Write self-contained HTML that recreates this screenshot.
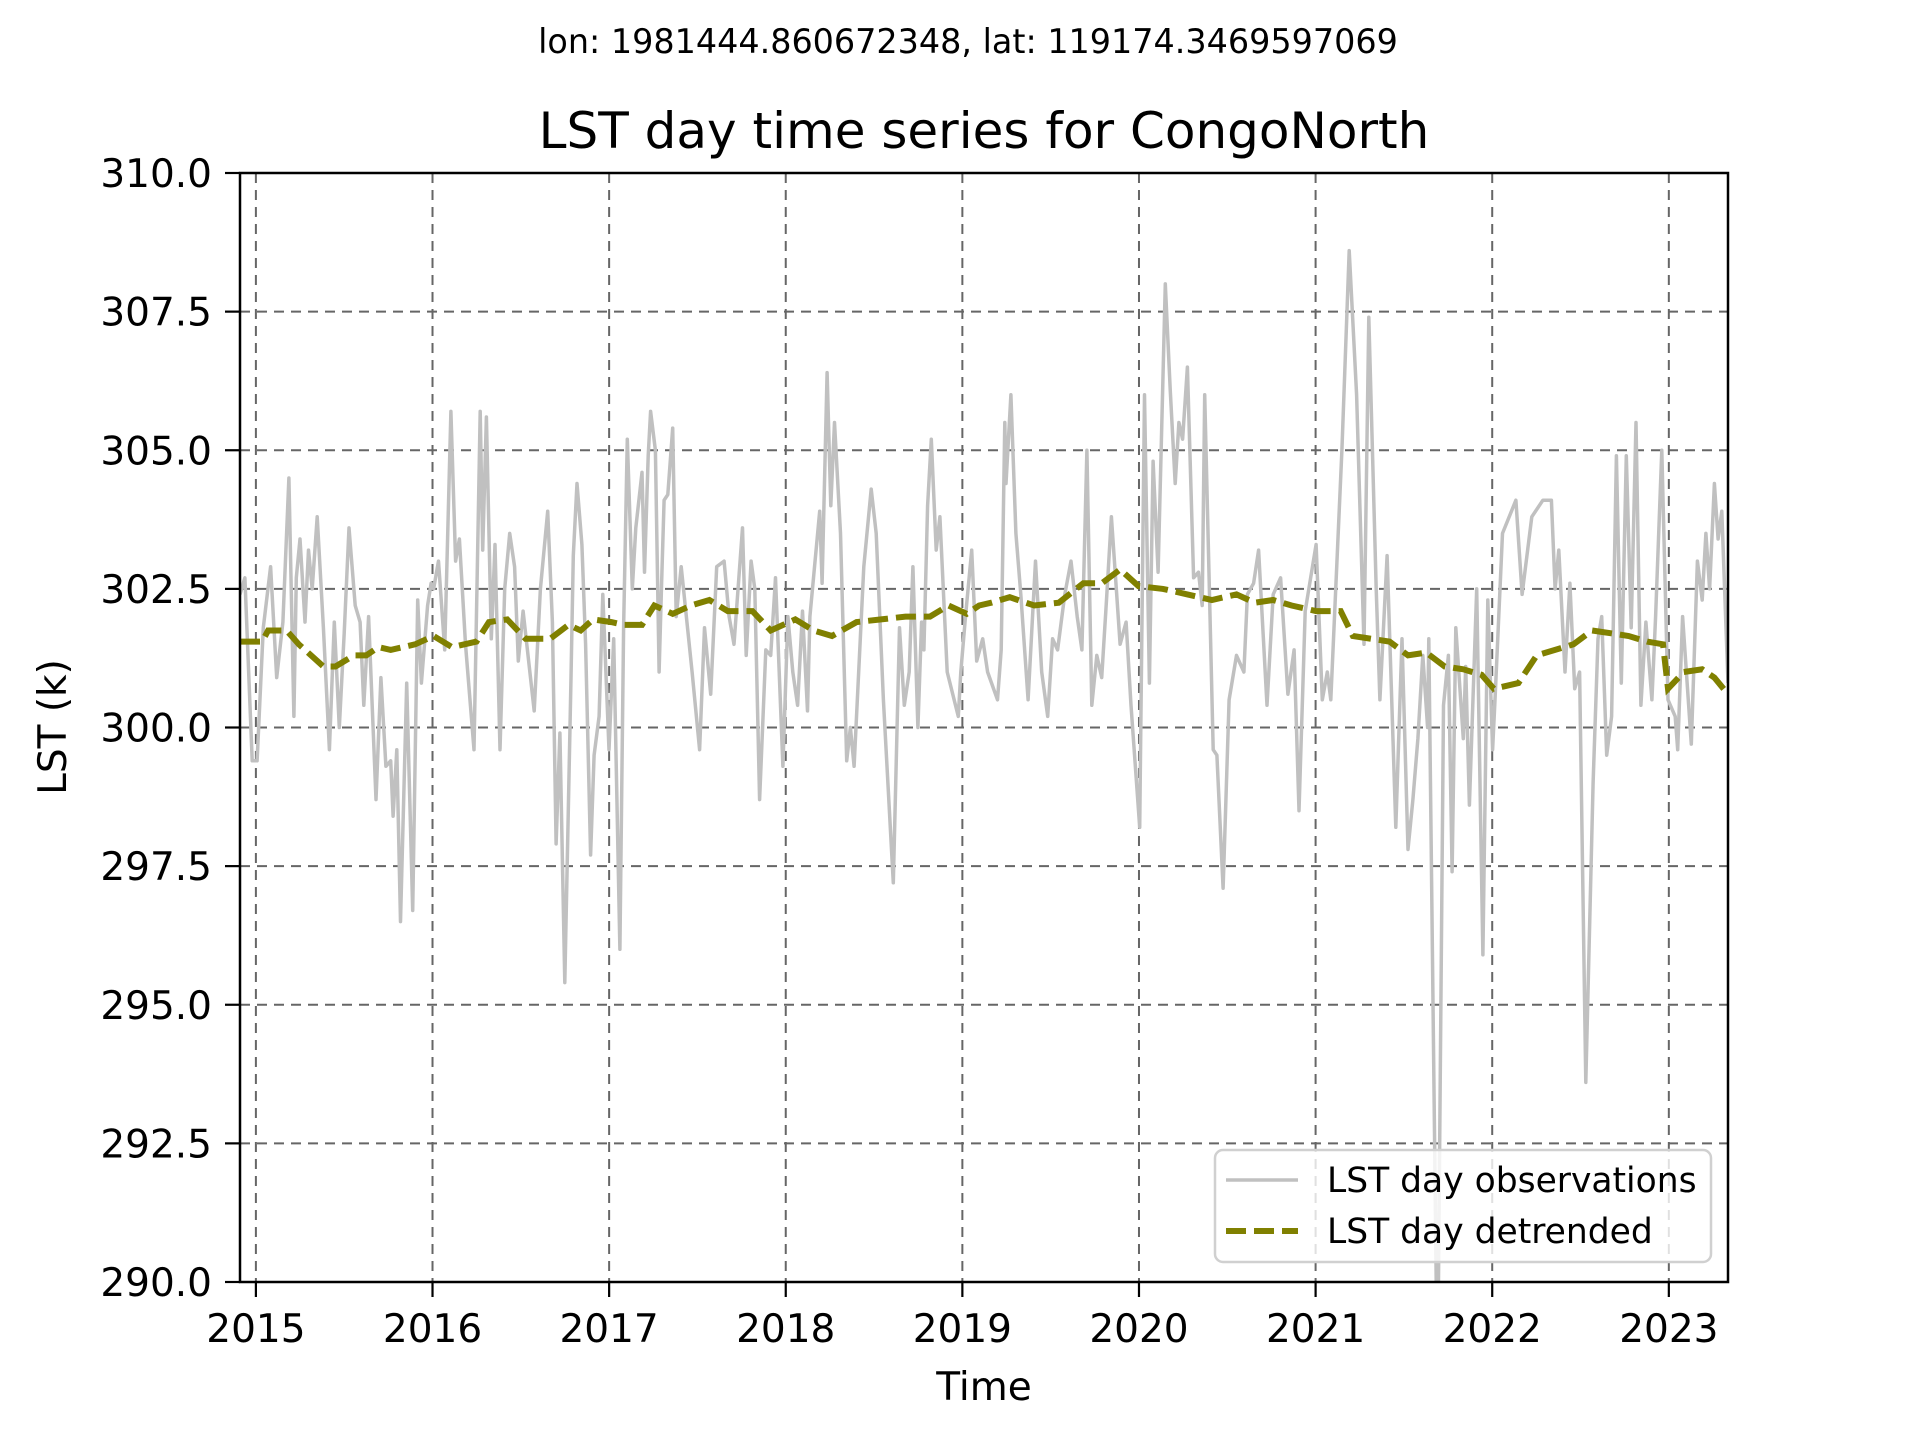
<!DOCTYPE html>
<html><head><meta charset="utf-8"><style>
html,body{margin:0;padding:0;background:#fff;}
svg text{font-family:"DejaVu Sans","Liberation Sans",sans-serif;fill:#000;}
</style></head><body>
<svg id="chart" width="1920" height="1440" viewBox="0 0 1920 1440" xmlns="http://www.w3.org/2000/svg">
<rect width="1920" height="1440" fill="#fff"/>
<text x="968" y="53" text-anchor="middle" font-size="33.4">lon: 1981444.860672348, lat: 119174.3469597069</text>
<text x="984" y="148" text-anchor="middle" font-size="50">LST day time series for CongoNorth</text>
<defs><clipPath id="plotclip"><rect x="240" y="173" width="1488" height="1109"/></clipPath></defs>
<g id="grid"></g>
<g id="series" clip-path="url(#plotclip)"></g>
<g id="axes"></g>
<text x="984" y="1400" text-anchor="middle" font-size="39">Time</text>
<text transform="translate(66,727) rotate(-90)" text-anchor="middle" font-size="39">LST (k)</text>
<g>
<rect x="1215" y="1150" width="496" height="112" rx="8" fill="#fff" fill-opacity="0.8" stroke="#d0d0d0" stroke-width="2.5"/>
<line x1="1226" y1="1180" x2="1298" y2="1180" stroke="#c0c0c0" stroke-width="3.5"/>
<text x="1327" y="1192" font-size="34.5">LST day observations</text>
<line x1="1226" y1="1231" x2="1298" y2="1231" stroke="#808000" stroke-width="6" stroke-dasharray="20,8"/>
<text x="1327" y="1243" font-size="34.5">LST day detrended</text>
</g>
</svg>
<script>
const obsYears=[2014.910,2014.938,2014.979,2015.007,2015.042,2015.083,2015.118,2015.153,2015.187,2015.215,2015.229,2015.250,2015.278,2015.298,2015.319,2015.347,2015.382,2015.416,2015.444,2015.472,2015.500,2015.527,2015.562,2015.590,2015.611,2015.638,2015.680,2015.708,2015.736,2015.763,2015.777,2015.798,2015.819,2015.854,2015.888,2015.916,2015.937,2015.972,2015.992,2016.006,2016.034,2016.069,2016.104,2016.131,2016.152,2016.187,2016.235,2016.270,2016.284,2016.305,2016.333,2016.354,2016.382,2016.409,2016.437,2016.465,2016.486,2016.513,2016.576,2016.611,2016.652,2016.679,2016.700,2016.721,2016.749,2016.784,2016.797,2016.818,2016.846,2016.867,2016.895,2016.915,2016.943,2016.964,2016.999,2017.026,2017.061,2017.082,2017.103,2017.131,2017.151,2017.186,2017.200,2017.221,2017.235,2017.262,2017.283,2017.297,2017.311,2017.332,2017.360,2017.380,2017.408,2017.470,2017.512,2017.540,2017.575,2017.609,2017.651,2017.679,2017.707,2017.755,2017.776,2017.804,2017.825,2017.852,2017.887,2017.915,2017.942,2017.984,2018.012,2018.040,2018.067,2018.095,2018.123,2018.137,2018.192,2018.206,2018.234,2018.255,2018.276,2018.310,2018.345,2018.366,2018.387,2018.442,2018.484,2018.512,2018.553,2018.609,2018.644,2018.671,2018.699,2018.720,2018.748,2018.769,2018.782,2018.803,2018.824,2018.852,2018.873,2018.914,2018.977,2018.991,2019.018,2019.053,2019.081,2019.115,2019.143,2019.199,2019.220,2019.240,2019.247,2019.275,2019.303,2019.331,2019.372,2019.414,2019.449,2019.483,2019.511,2019.539,2019.580,2019.615,2019.650,2019.677,2019.705,2019.733,2019.761,2019.789,2019.816,2019.844,2019.893,2019.927,2019.955,2020.004,2020.031,2020.059,2020.080,2020.108,2020.149,2020.177,2020.205,2020.226,2020.247,2020.274,2020.309,2020.337,2020.358,2020.372,2020.399,2020.420,2020.441,2020.476,2020.510,2020.552,2020.594,2020.614,2020.649,2020.677,2020.725,2020.760,2020.802,2020.843,2020.878,2020.906,2020.941,2021.003,2021.038,2021.066,2021.086,2021.107,2021.149,2021.190,2021.232,2021.274,2021.301,2021.343,2021.364,2021.405,2021.454,2021.489,2021.523,2021.551,2021.579,2021.607,2021.634,2021.641,2021.690,2021.724,2021.752,2021.773,2021.794,2021.836,2021.850,2021.871,2021.912,2021.947,2021.975,2022.002,2022.016,2022.058,2022.134,2022.169,2022.224,2022.287,2022.335,2022.356,2022.377,2022.412,2022.440,2022.467,2022.495,2022.530,2022.571,2022.599,2022.620,2022.648,2022.676,2022.703,2022.731,2022.759,2022.787,2022.814,2022.842,2022.870,2022.904,2022.925,2022.960,2022.995,2023.036,2023.050,2023.078,2023.127,2023.162,2023.189,2023.210,2023.231,2023.258,2023.279,2023.300,2023.335];
const obsValues=[302.4,302.7,299.4,299.4,301.8,302.9,300.9,301.9,304.5,300.2,302.7,303.4,301.9,303.2,302.5,303.8,301.8,299.6,301.9,300.0,301.7,303.6,302.2,301.9,300.4,302.0,298.7,300.9,299.3,299.4,298.4,299.6,296.5,300.8,296.7,302.3,300.8,302.2,302.6,302.5,303.0,301.4,305.7,303.0,303.4,301.5,299.6,305.7,303.2,305.6,301.6,303.3,299.6,302.5,303.5,302.9,301.2,302.1,300.3,302.5,303.9,301.9,297.9,299.9,295.4,300.9,303.1,304.4,303.3,301.5,297.7,299.5,300.2,302.4,299.6,301.6,296.0,301.8,305.2,302.5,303.6,304.6,302.8,304.9,305.7,305.0,301.0,302.6,304.1,304.2,305.4,302.0,302.9,301.0,299.6,301.8,300.6,302.9,303.0,302.0,301.5,303.6,301.3,303.0,302.5,298.7,301.4,301.3,302.7,299.3,302.0,301.0,300.4,302.1,300.3,302.0,303.9,302.6,306.4,304.0,305.5,303.5,299.4,300.0,299.3,302.9,304.3,303.5,300.5,297.2,301.8,300.4,301.0,302.9,300.0,301.9,301.4,304.0,305.2,303.2,303.8,301.0,300.2,301.0,302.0,303.2,301.2,301.6,301.0,300.5,301.4,305.5,304.4,306.0,303.5,302.4,300.5,303.0,301.0,300.2,301.6,301.4,302.4,303.0,302.0,301.4,305.0,300.4,301.3,300.9,302.3,303.8,301.5,301.9,300.4,298.2,306.0,300.8,304.8,302.8,308.0,306.1,304.4,305.5,305.2,306.5,302.7,302.8,302.2,306.0,302.4,299.6,299.5,297.1,300.5,301.3,301.0,302.4,302.6,303.2,300.4,302.4,302.7,300.6,301.4,298.5,302.1,303.3,300.5,301.0,300.5,302.0,305.0,308.6,306.0,301.5,307.4,302.5,300.5,303.1,298.2,301.6,297.8,298.7,299.8,301.3,300.0,301.6,288.0,300.4,301.3,297.4,301.8,299.8,301.1,298.6,302.5,295.9,302.3,299.6,300.5,303.5,304.1,302.4,303.8,304.1,304.1,302.5,303.2,301.0,302.6,300.7,301.0,293.6,299.0,301.6,302.0,299.5,300.2,304.9,300.8,304.9,301.8,305.5,300.4,301.9,300.5,302.0,305.0,300.5,300.2,299.6,302.0,299.7,303.0,302.3,303.5,302.5,304.4,303.4,303.9,300.8];
const detYears=[2014.910,2015.035,2015.069,2015.174,2015.243,2015.382,2015.451,2015.555,2015.625,2015.694,2015.763,2015.902,2016.006,2016.110,2016.249,2016.319,2016.423,2016.527,2016.666,2016.770,2016.839,2016.909,2017.013,2017.082,2017.186,2017.256,2017.360,2017.464,2017.568,2017.672,2017.811,2017.915,2018.054,2018.158,2018.262,2018.401,2018.540,2018.678,2018.817,2018.921,2019.025,2019.095,2019.164,2019.268,2019.407,2019.546,2019.685,2019.789,2019.893,2019.997,2020.136,2020.274,2020.413,2020.552,2020.656,2020.760,2020.864,2021.003,2021.142,2021.211,2021.315,2021.419,2021.523,2021.627,2021.731,2021.836,2021.940,2022.009,2022.148,2022.252,2022.356,2022.460,2022.565,2022.669,2022.773,2022.877,2022.967,2022.995,2023.085,2023.189,2023.258,2023.335];
const detValues=[301.55,301.55,301.75,301.75,301.5,301.1,301.1,301.3,301.3,301.45,301.4,301.5,301.65,301.45,301.55,301.9,301.95,301.6,301.6,301.85,301.75,301.95,301.9,301.85,301.85,302.2,302.05,302.2,302.3,302.1,302.1,301.75,301.95,301.75,301.65,301.9,301.95,302.0,302.0,302.2,302.05,302.2,302.25,302.35,302.2,302.25,302.6,302.6,302.85,302.55,302.5,302.4,302.3,302.4,302.25,302.3,302.2,302.1,302.1,301.65,301.6,301.55,301.3,301.35,301.1,301.05,300.95,300.7,300.8,301.3,301.4,301.5,301.75,301.7,301.65,301.55,301.5,300.7,301.0,301.05,300.9,300.6];
const xTickYears=[2015,2016,2017,2018,2019,2020,2021,2022,2023];
const yTicks=[290,292.5,295,297.5,300,302.5,305,307.5,310];
const yTickLabels=["290.0","292.5","295.0","297.5","300.0","302.5","305.0","307.5","310.0"];

const L=240,R=1728,T=173,B=1282,X0=2014.91,X1=2023.335,Y0=290,Y1=310;
const NS="http://www.w3.org/2000/svg";
function xs(v){return L+(v-X0)/(X1-X0)*(R-L);}
function ys(v){return B-(v-Y0)/(Y1-Y0)*(B-T);}
function mk(tag,attrs,parent){const e=document.createElementNS(NS,tag);for(const k in attrs)e.setAttribute(k,attrs[k]);parent.appendChild(e);return e;}
const grid=document.getElementById('grid'),series=document.getElementById('series'),axes=document.getElementById('axes');

xTickYears.forEach((yr,i)=>{
  const x=xs(yr);
  const g=mk('line',{x1:x,y1:T,x2:x,y2:B,stroke:'#666','stroke-width':2,'stroke-dasharray':'10,7'},grid);
  
  
  const t=mk('line',{x1:x,y1:B,x2:x,y2:B+15,stroke:'#000','stroke-width':2.2},axes);
  
  
  const lb=mk('text',{x:x,y:B+60,'text-anchor':'middle','font-size':39},axes);
  lb.textContent=String(yr);
  
  
});
yTicks.forEach((v,i)=>{
  const y=ys(v);
  if(i>0&&i<yTicks.length-1){
    const g=mk('line',{x1:L,y1:y,x2:R,y2:y,stroke:'#666','stroke-width':2,'stroke-dasharray':'10,7'},grid);
    
    
  }
  const t=mk('line',{x1:L-15,y1:y,x2:L,y2:y,stroke:'#000','stroke-width':2.2},axes);
  
  
  const lb=mk('text',{x:L-28,y:y+14,'text-anchor':'end','font-size':39},axes);
  lb.textContent=yTickLabels[i];
  
  
});
function pathOf(xa,va){return xa.map((x,i)=>(i?'L':'M')+xs(x).toFixed(1)+','+ys(va[i]).toFixed(1)).join('');}
const obs=mk('path',{d:pathOf(obsYears,obsValues),fill:'none',stroke:'#c0c0c0','stroke-width':3.5,'stroke-linejoin':'round'},series);


const det=mk('path',{d:pathOf(detYears,detValues),fill:'none',stroke:'#808000','stroke-width':6,'stroke-dasharray':'20,8'},series);


const frame=mk('rect',{x:L,y:T,width:R-L,height:B-T,fill:'none',stroke:'#000','stroke-width':2.5},axes);


</script>
</body></html>
